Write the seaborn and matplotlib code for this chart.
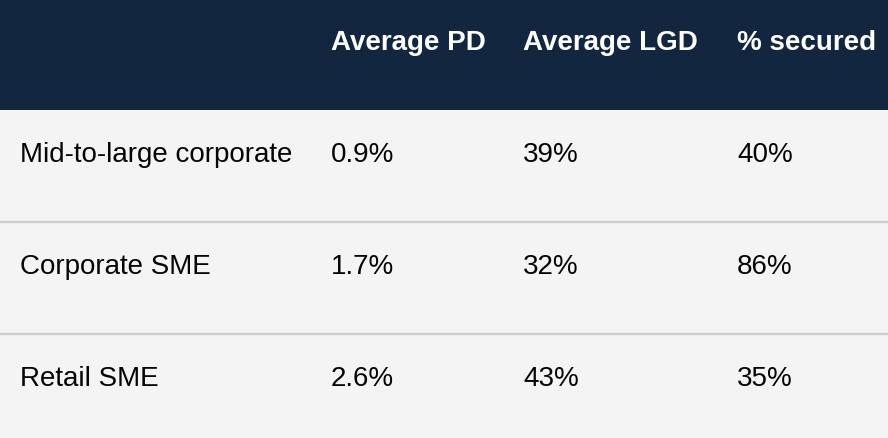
import numpy as np
import pandas as pd
import matplotlib
matplotlib.use("Agg")
import matplotlib.pyplot as plt
import seaborn as sns
from matplotlib.colors import ListedColormap

# table content
columns  = ["", "Average PD", "Average LGD", "% secured"]
segments = ["Mid-to-large corporate", "Corporate SME", "Retail SME"]
avg_pd   = ["0.9%", "1.7%", "2.6%"]
avg_lgd  = ["39%", "32%", "43%"]
secured  = ["40%", "86%", "35%"]

# layout
W, H       = 888, 438
row_px     = 112
top_px     = -2
col_left   = [20, 331, 523, 737]
base_frac  = 0.464
header_col = "#13263f"
body_col   = "#f4f4f4"
line_col   = "#cccccc"

sns.set_theme(style="white")
plt.rcParams["font.family"] = ["Liberation Sans", "DejaVu Sans"]

body = pd.DataFrame({"": segments, "Average PD": avg_pd,
                     "Average LGD": avg_lgd, "% secured": secured})
n_rows = len(body) + 1

# 1 = header band, 0 = body band
bands = np.array([[1]] + [[0]] * len(body))

fig = plt.figure(figsize=(W / 100, H / 100), dpi=100)
fig.patch.set_facecolor(body_col)
ax_h = n_rows * row_px
ax = fig.add_axes([0, (H - (top_px + ax_h)) / H, 1, ax_h / H])

sns.heatmap(bands, ax=ax, cmap=ListedColormap([body_col, header_col]),
            cbar=False, xticklabels=False, yticklabels=False,
            vmin=0, vmax=1)

# row separators
for r in range(2, n_rows):
    ax.axhline(r, color=line_col, lw=1.6)

trans = ax.get_yaxis_transform()
for c, name in enumerate(columns):
    ax.text(col_left[c] / W, base_frac, name, transform=trans,
            ha="left", va="baseline", color="white",
            fontsize=20, fontweight="bold")
    for r, val in enumerate(body[name]):
        ax.text(col_left[c] / W, r + 1 + base_frac, val, transform=trans,
                ha="left", va="baseline", color="#050505", fontsize=20)

ax.set_axis_off()
fig.savefig("out.png", dpi=100, facecolor=fig.get_facecolor())
